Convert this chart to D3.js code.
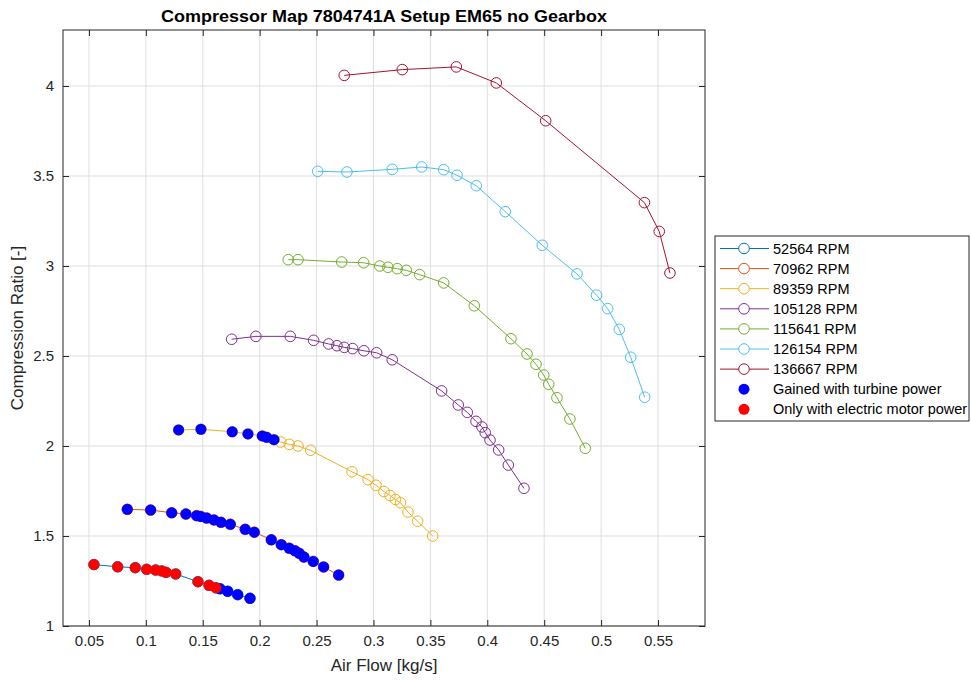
<!DOCTYPE html>
<html lang="en">
<head>
<meta charset="utf-8">
<title>Compressor Map</title>
<script src="https://d3js.org/d3.v7.min.js"></script>
<style>
  body { margin: 0; background: #fff; }
  svg { font-family: "Liberation Sans", Arial, sans-serif; }
</style>
</head>
<body>
<div id="chart"></div>
<script>
// speed lines (air flow kg/s, compression ratio)
var rpmLabels = ["52564 RPM", "70962 RPM", "89359 RPM", "105128 RPM", "115641 RPM", "126154 RPM", "136667 RPM"];
var rpmColors = ["#0072BD", "#D95319", "#EDB120", "#7E2F8E", "#77AC30", "#4DBEEE", "#A2142F"];

var flow1 = [0.0544, 0.0752, 0.0907, 0.1007, 0.1086, 0.1139, 0.1177, 0.1262, 0.1458, 0.1555, 0.1616, 0.1651, 0.1719, 0.1807, 0.1915];
var ratio1 = [1.341, 1.329, 1.324, 1.315, 1.311, 1.306, 1.298, 1.289, 1.246, 1.226, 1.212, 1.207, 1.193, 1.174, 1.154];

var flow2 = [0.0837, 0.1042, 0.1227, 0.1352, 0.1446, 0.1482, 0.1534, 0.1598, 0.1660, 0.1742, 0.1873, 0.1953, 0.2102, 0.2190, 0.2260, 0.2310, 0.2348, 0.2389, 0.2471, 0.2562, 0.2694];
var ratio2 = [1.648, 1.644, 1.629, 1.622, 1.613, 1.609, 1.600, 1.589, 1.576, 1.565, 1.537, 1.521, 1.479, 1.452, 1.432, 1.418, 1.404, 1.383, 1.359, 1.328, 1.283];

var flow3 = [0.1288, 0.1484, 0.1759, 0.1897, 0.2023, 0.2062, 0.2126, 0.2185, 0.2260, 0.2337, 0.2448, 0.2811, 0.2952, 0.3022, 0.3092, 0.3145, 0.3193, 0.3237, 0.3303, 0.3388, 0.3520];
var ratio3 = [2.089, 2.093, 2.079, 2.067, 2.056, 2.048, 2.035, 2.022, 2.009, 2.000, 1.976, 1.857, 1.813, 1.782, 1.747, 1.725, 1.703, 1.685, 1.633, 1.582, 1.500];

var flow4 = [0.1754, 0.1967, 0.2269, 0.2474, 0.2606, 0.2679, 0.2743, 0.2817, 0.2916, 0.3028, 0.3165, 0.3599, 0.3745, 0.3824, 0.3901, 0.3953, 0.3982, 0.4024, 0.4100, 0.4185, 0.4322];
var ratio4 = [2.593, 2.609, 2.609, 2.587, 2.567, 2.557, 2.548, 2.541, 2.529, 2.518, 2.479, 2.306, 2.228, 2.187, 2.137, 2.106, 2.074, 2.033, 1.978, 1.894, 1.765];

var flow5 = [0.2251, 0.2337, 0.2721, 0.2914, 0.3055, 0.3127, 0.3209, 0.3288, 0.3406, 0.3617, 0.3886, 0.4208, 0.4349, 0.4428, 0.4496, 0.4540, 0.4612, 0.4726, 0.4861];
var ratio5 = [3.035, 3.035, 3.022, 3.018, 3.000, 2.993, 2.985, 2.976, 2.952, 2.906, 2.779, 2.596, 2.511, 2.454, 2.394, 2.343, 2.268, 2.150, 1.987];

var flow6 = [0.2510, 0.2767, 0.3165, 0.3424, 0.3617, 0.3734, 0.3903, 0.4158, 0.4483, 0.4788, 0.4960, 0.5058, 0.5160, 0.5260, 0.5383];
var ratio6 = [3.526, 3.522, 3.537, 3.550, 3.535, 3.504, 3.446, 3.302, 3.115, 2.956, 2.838, 2.763, 2.648, 2.493, 2.271];

var flow7 = [0.2743, 0.3253, 0.3728, 0.4079, 0.4513, 0.5381, 0.5511, 0.5605];
var ratio7 = [4.059, 4.091, 4.106, 4.017, 3.807, 3.352, 3.192, 2.961];

// operating points
var turbineFlow = [0.1651, 0.1719, 0.1807, 0.1915,
  0.0837, 0.1042, 0.1227, 0.1352, 0.1446, 0.1482, 0.1534, 0.1598, 0.1660, 0.1742, 0.1873, 0.1953, 0.2102, 0.2190, 0.2260, 0.2310, 0.2348, 0.2389, 0.2471, 0.2562, 0.2694,
  0.1288, 0.1484, 0.1759, 0.1897, 0.2023, 0.2062, 0.2126];
var turbineRatio = [1.207, 1.193, 1.174, 1.154,
  1.648, 1.644, 1.629, 1.622, 1.613, 1.609, 1.600, 1.589, 1.576, 1.565, 1.537, 1.521, 1.479, 1.452, 1.432, 1.418, 1.404, 1.383, 1.359, 1.328, 1.283,
  2.089, 2.093, 2.079, 2.067, 2.056, 2.048, 2.035];
var electricFlow = [0.0544, 0.0752, 0.0907, 0.1007, 0.1086, 0.1139, 0.1177, 0.1262, 0.1458, 0.1555, 0.1616];
var electricRatio = [1.341, 1.329, 1.324, 1.315, 1.311, 1.306, 1.298, 1.289, 1.246, 1.226, 1.212];

var xTicks = [0.05, 0.1, 0.15, 0.2, 0.25, 0.3, 0.35, 0.4, 0.45, 0.5, 0.55];
var yTicks = [1, 1.5, 2, 2.5, 3, 3.5, 4];

var flows = [flow1, flow2, flow3, flow4, flow5, flow6, flow7];
var ratios = [ratio1, ratio2, ratio3, ratio4, ratio5, ratio6, ratio7];

var width = 971, height = 680;
var plotL = 63, plotR = 705, plotT = 30, plotB = 626;
var axisColor = "#262626";

var svg = d3.select("#chart").append("svg")
  .attr("width", width)
  .attr("height", height);

var x = d3.scaleLinear().domain([0.0272, 0.5913]).range([plotL, plotR]);
var y = d3.scaleLinear().domain([1, 4.311]).range([plotB, plotT]);

// grid
svg.append("g").selectAll("line").data(xTicks).enter().append("line")
  .attr("x1", d => x(d)).attr("x2", d => x(d))
  .attr("y1", plotT).attr("y2", plotB)
  .attr("stroke", "#dfdfdf").attr("stroke-width", 1);
svg.append("g").selectAll("line").data(yTicks).enter().append("line")
  .attr("x1", plotL).attr("x2", plotR)
  .attr("y1", d => y(d)).attr("y2", d => y(d))
  .attr("stroke", "#dfdfdf").attr("stroke-width", 1);

// axes, ticks pointing inward like matlab
var xAxis = svg.append("g").attr("transform", "translate(0," + plotB + ")")
  .call(d3.axisBottom(x).tickValues(xTicks).tickSize(-6).tickPadding(9).tickFormat(d3.format("")));
var xTop = svg.append("g").attr("transform", "translate(0," + plotT + ")")
  .call(d3.axisTop(x).tickValues(xTicks).tickSize(-6).tickFormat(""));
var yAxis = svg.append("g").attr("transform", "translate(" + plotL + ",0)")
  .call(d3.axisLeft(y).tickValues(yTicks).tickSize(-6).tickPadding(9).tickFormat(d3.format("")));
var yRight = svg.append("g").attr("transform", "translate(" + plotR + ",0)")
  .call(d3.axisRight(y).tickValues(yTicks).tickSize(-6).tickFormat(""));

[xAxis, xTop, yAxis, yRight].forEach(function (g) {
  g.select(".domain").remove();
  g.selectAll(".tick line").attr("stroke", axisColor);
  g.selectAll("text").attr("fill", axisColor).style("font-size", "15px").style("font-family", "'Liberation Sans', Arial, sans-serif");
});
svg.append("rect")
  .attr("x", plotL).attr("y", plotT)
  .attr("width", plotR - plotL).attr("height", plotB - plotT)
  .attr("fill", "none").attr("stroke", axisColor).attr("stroke-width", 1);

// speed lines with open markers
var line = d3.line().x(d => x(d[0])).y(d => y(d[1]));
flows.forEach(function (f, i) {
  var pts = f.map((v, j) => [v, ratios[i][j]]);
  var g = svg.append("g");
  g.append("path").datum(pts)
    .attr("d", line)
    .attr("fill", "none")
    .attr("stroke", rpmColors[i])
    .attr("stroke-width", 1);
  g.selectAll("circle").data(pts).enter().append("circle")
    .attr("cx", d => x(d[0])).attr("cy", d => y(d[1]))
    .attr("r", 5.3)
    .attr("fill", "none")
    .attr("stroke", rpmColors[i])
    .attr("stroke-width", 1);
});

// filled operating points
svg.append("g").selectAll("circle").data(turbineFlow).enter().append("circle")
  .attr("cx", d => x(d)).attr("cy", (d, i) => y(turbineRatio[i]))
  .attr("r", 5.5).attr("fill", "#0000FF");
svg.append("g").selectAll("circle").data(electricFlow).enter().append("circle")
  .attr("cx", d => x(d)).attr("cy", (d, i) => y(electricRatio[i]))
  .attr("r", 5.5).attr("fill", "#FF0000");

// labels
svg.append("text")
  .attr("x", (plotL + plotR) / 2).attr("y", 22)
  .attr("text-anchor", "middle")
  .style("font-size", "17px").style("font-weight", "bold")
  .attr("textLength", 446).attr("lengthAdjust", "spacingAndGlyphs")
  .attr("fill", "#000")
  .text("Compressor Map 7804741A Setup EM65 no Gearbox");
svg.append("text")
  .attr("x", (plotL + plotR) / 2).attr("y", 671)
  .attr("text-anchor", "middle")
  .style("font-size", "17px").attr("fill", axisColor)
  .text("Air Flow [kg/s]");
svg.append("text")
  .attr("transform", "translate(23," + (plotT + plotB) / 2 + ") rotate(-90)")
  .attr("text-anchor", "middle")
  .style("font-size", "17px").attr("fill", axisColor)
  .text("Compression Ratio [-]");

// legend
var legendItems = rpmLabels.map((l, i) => ({ label: l, color: rpmColors[i], kind: "line" }))
  .concat([{ label: "Gained with turbine power", color: "#0000FF", kind: "dot" },
           { label: "Only with electric motor power", color: "#FF0000", kind: "dot" }]);
var legend = svg.append("g").attr("transform", "translate(715,236)");
legend.append("rect")
  .attr("width", 254).attr("height", 185)
  .attr("fill", "#fff").attr("stroke", axisColor).attr("stroke-width", 1);
var row = legend.selectAll("g.item").data(legendItems).enter().append("g")
  .attr("class", "item")
  .attr("transform", (d, i) => "translate(0," + (12.5 + i * 20.1) + ")");
row.filter(d => d.kind === "line").append("line")
  .attr("x1", 5).attr("x2", 54).attr("stroke", d => d.color).attr("stroke-width", 1);
row.filter(d => d.kind === "line").append("circle")
  .attr("cx", 29).attr("r", 5.3).attr("fill", "#fff").attr("stroke", d => d.color);
row.filter(d => d.kind === "dot").append("circle")
  .attr("cx", 29).attr("r", 5.5).attr("fill", d => d.color);
row.append("text")
  .attr("x", 58).attr("dy", "0.35em")
  .style("font-size", "14.5px").attr("fill", "#000")
  .text(d => d.label);
</script>
</body>
</html>
